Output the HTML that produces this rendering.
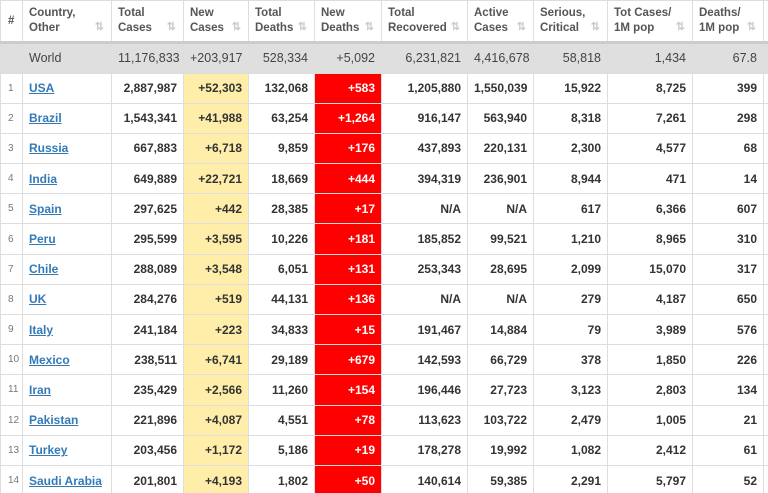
<!DOCTYPE html>
<html><head><meta charset="utf-8"><style>
html,body{margin:0;padding:0;background:#fff;width:768px;height:493px;overflow:hidden}
table{border-collapse:collapse;table-layout:fixed;font-family:"Liberation Sans",Arial,sans-serif;font-size:12px;color:#333;width:770px}
td,th{border:1px solid #ddd;padding:0 6px;white-space:nowrap;overflow:hidden}
th{height:40px;text-align:left;font-weight:bold;color:#555;font-size:11.5px;line-height:15px;vertical-align:middle;border-bottom:3px solid #ccc;position:relative}
th .s{position:absolute;right:7px;bottom:6px;color:#ccc;font-size:11px}
td{height:29.2px;text-align:right;font-weight:bold}
tr.w td{background:#dfdfdf;font-weight:normal;color:#444;font-size:12.5px;height:28.5px}
td.n{text-align:left;font-weight:normal;color:#777;font-size:10px;padding:0 0 0 7px}
td.c{text-align:left}
td.c a{color:#337ab7;text-decoration:underline}
td.y{background:#ffeeaa}
td.r{background:#ff0000;color:#fff}
</style></head><body>
<table>
<colgroup><col style="width:22px"><col style="width:89px"><col style="width:72px"><col style="width:65px"><col style="width:66px"><col style="width:67px"><col style="width:86px"><col style="width:66px"><col style="width:74px"><col style="width:85px"><col style="width:71px"><col style="width:7px"></colgroup>
<tr><th style="padding:0 0 0 7px;vertical-align:middle">#</th><th>Country,<br>Other<span class="s">⇅</span></th><th>Total<br>Cases<span class="s">⇅</span></th><th>New<br>Cases<span class="s">⇅</span></th><th>Total<br>Deaths<span class="s">⇅</span></th><th>New<br>Deaths<span class="s">⇅</span></th><th>Total<br>Recovered<span class="s">⇅</span></th><th>Active<br>Cases<span class="s">⇅</span></th><th>Serious,<br>Critical<span class="s">⇅</span></th><th>Tot Cases/<br>1M pop<span class="s">⇅</span></th><th>Deaths/<br>1M pop<span class="s">⇅</span></th><th></th></tr>
<tr class="w"><td></td><td style="text-align:left">World</td><td>11,176,833</td><td>+203,917</td><td>528,334</td><td>+5,092</td><td>6,231,821</td><td>4,416,678</td><td>58,818</td><td>1,434</td><td>67.8</td><td></td></tr>
<tr><td class="n">1</td><td class="c"><a>USA</a></td><td>2,887,987</td><td class="y">+52,303</td><td>132,068</td><td class="r">+583</td><td>1,205,880</td><td>1,550,039</td><td>15,922</td><td>8,725</td><td>399</td><td></td></tr>
<tr><td class="n">2</td><td class="c"><a>Brazil</a></td><td>1,543,341</td><td class="y">+41,988</td><td>63,254</td><td class="r">+1,264</td><td>916,147</td><td>563,940</td><td>8,318</td><td>7,261</td><td>298</td><td></td></tr>
<tr><td class="n">3</td><td class="c"><a>Russia</a></td><td>667,883</td><td class="y">+6,718</td><td>9,859</td><td class="r">+176</td><td>437,893</td><td>220,131</td><td>2,300</td><td>4,577</td><td>68</td><td></td></tr>
<tr><td class="n">4</td><td class="c"><a>India</a></td><td>649,889</td><td class="y">+22,721</td><td>18,669</td><td class="r">+444</td><td>394,319</td><td>236,901</td><td>8,944</td><td>471</td><td>14</td><td></td></tr>
<tr><td class="n">5</td><td class="c"><a>Spain</a></td><td>297,625</td><td class="y">+442</td><td>28,385</td><td class="r">+17</td><td>N/A</td><td>N/A</td><td>617</td><td>6,366</td><td>607</td><td></td></tr>
<tr><td class="n">6</td><td class="c"><a>Peru</a></td><td>295,599</td><td class="y">+3,595</td><td>10,226</td><td class="r">+181</td><td>185,852</td><td>99,521</td><td>1,210</td><td>8,965</td><td>310</td><td></td></tr>
<tr><td class="n">7</td><td class="c"><a>Chile</a></td><td>288,089</td><td class="y">+3,548</td><td>6,051</td><td class="r">+131</td><td>253,343</td><td>28,695</td><td>2,099</td><td>15,070</td><td>317</td><td></td></tr>
<tr><td class="n">8</td><td class="c"><a>UK</a></td><td>284,276</td><td class="y">+519</td><td>44,131</td><td class="r">+136</td><td>N/A</td><td>N/A</td><td>279</td><td>4,187</td><td>650</td><td></td></tr>
<tr><td class="n">9</td><td class="c"><a>Italy</a></td><td>241,184</td><td class="y">+223</td><td>34,833</td><td class="r">+15</td><td>191,467</td><td>14,884</td><td>79</td><td>3,989</td><td>576</td><td></td></tr>
<tr><td class="n">10</td><td class="c"><a>Mexico</a></td><td>238,511</td><td class="y">+6,741</td><td>29,189</td><td class="r">+679</td><td>142,593</td><td>66,729</td><td>378</td><td>1,850</td><td>226</td><td></td></tr>
<tr><td class="n">11</td><td class="c"><a>Iran</a></td><td>235,429</td><td class="y">+2,566</td><td>11,260</td><td class="r">+154</td><td>196,446</td><td>27,723</td><td>3,123</td><td>2,803</td><td>134</td><td></td></tr>
<tr><td class="n">12</td><td class="c"><a>Pakistan</a></td><td>221,896</td><td class="y">+4,087</td><td>4,551</td><td class="r">+78</td><td>113,623</td><td>103,722</td><td>2,479</td><td>1,005</td><td>21</td><td></td></tr>
<tr><td class="n">13</td><td class="c"><a>Turkey</a></td><td>203,456</td><td class="y">+1,172</td><td>5,186</td><td class="r">+19</td><td>178,278</td><td>19,992</td><td>1,082</td><td>2,412</td><td>61</td><td></td></tr>
<tr><td class="n">14</td><td class="c"><a>Saudi Arabia</a></td><td>201,801</td><td class="y">+4,193</td><td>1,802</td><td class="r">+50</td><td>140,614</td><td>59,385</td><td>2,291</td><td>5,797</td><td>52</td><td></td></tr>
</table>
</body></html>
